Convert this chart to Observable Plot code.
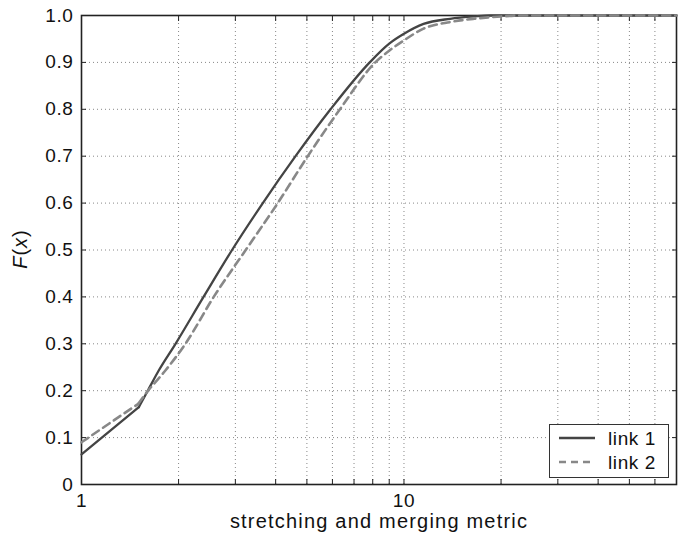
<!DOCTYPE html>
<html>
<head>
<meta charset="utf-8">
<script src="https://cdn.jsdelivr.net/npm/d3@7"></script>
<script src="https://cdn.jsdelivr.net/npm/@observablehq/plot@0.6"></script>
<style>
  html, body { margin: 0; padding: 0; background: #fff; }
  #wrap { position: relative; width: 687px; height: 545px; font-family: "Liberation Sans", Arial, sans-serif; }
  #legend { position: absolute; left: 549px; top: 424px; width: 118px; height: 52px; border: 1px solid #333; background: #fff; }
  #legend svg { display: block; }
</style>
</head>
<body>
<div id="wrap"></div>
<script>
// link 1 (solid): straight lower segment, then smooth rise
const link1X = [1, 1.506, 1.605, 1.736, 1.957, 2.39, 2.93, 3.65, 4.61, 5.92, 7.83, 9, 10, 11.5, 13.9, 16.5, 18.5, 70];
const link1Y = [0.064, 0.165, 0.2, 0.243, 0.3, 0.4, 0.5, 0.6, 0.7, 0.8, 0.9, 0.94, 0.961, 0.982, 0.993, 0.998, 1.0, 1.0];
// link 2 (dashed)
const link2X = [1, 1.5, 1.6, 1.82, 2.1, 2.57, 3.23, 4.06, 5.03, 6.33, 8.15, 9, 10, 11.5, 13.9, 16.5, 20, 23, 70];
const link2Y = [0.09, 0.172, 0.198, 0.243, 0.3, 0.4, 0.5, 0.6, 0.7, 0.8, 0.9, 0.925, 0.947, 0.972, 0.986, 0.993, 0.998, 1.0, 1.0];

const seriesNames = ["link 1", "link 2"];
const xTickLabels = [1, 10, 70];
const xMinorTicks = [1, 2, 3, 4, 5, 6, 7, 8, 9, 10, 20, 30, 40, 50, 60, 70];
const xGrid = [2, 3, 4, 5, 6, 7, 8, 9, 10, 20, 30, 40, 50, 60];
const yTicks = [0, 0.1, 0.2, 0.3, 0.4, 0.5, 0.6, 0.7, 0.8, 0.9, 1.0];
const yGrid = [0.1, 0.2, 0.3, 0.4, 0.5, 0.6, 0.7, 0.8, 0.9];
const xLabel = "stretching and merging metric";

const toRows = (xs, ys) => xs.map((x, i) => ({x, y: ys[i]}));
const d1 = toRows(link1X, link1Y);
const d2 = toRows(link2X, link2Y);
// first segment drawn straight, the rest smooth
const d1a = d1.slice(0, 2), d1b = d1.slice(1);
const d2a = d2.slice(0, 2), d2b = d2.slice(1);
const yFmt = d => d === 0 ? "0" : d.toFixed(1);

const s1 = {stroke: "#444", strokeWidth: 2.3};
const s2 = {stroke: "#888", strokeWidth: 2.6, strokeDasharray: "8,5"};

const chart = Plot.plot({
  width: 687,
  height: 545,
  marginLeft: 81,
  marginRight: 11,
  marginTop: 15,
  marginBottom: 61,
  style: {fontFamily: '"Liberation Sans", Arial, sans-serif', fontSize: "19px", letterSpacing: "0.6px", color: "#111", background: "#fff"},
  x: {type: "log", domain: [1, 70]},
  y: {domain: [0, 1]},
  marks: [
    Plot.gridX(xGrid, {stroke: "#888", strokeOpacity: 1, strokeDasharray: "1,3", strokeWidth: 1}),
    Plot.gridY(yGrid, {stroke: "#888", strokeOpacity: 1, strokeDasharray: "1,3", strokeWidth: 1}),
    Plot.axisX(xMinorTicks, {anchor: "bottom", tickSize: -5, tickFormat: () => "", label: null, stroke: "#222"}),
    Plot.axisX(xMinorTicks, {anchor: "top", tickSize: -5, tickFormat: () => "", label: null, stroke: "#222"}),
    Plot.axisY(yTicks, {anchor: "left", tickSize: -5, tickFormat: () => "", label: null, stroke: "#222"}),
    Plot.axisY(yTicks, {anchor: "right", tickSize: -5, tickFormat: () => "", label: null, stroke: "#222"}),
    Plot.axisX(xTickLabels, {anchor: "bottom", tickSize: 0, tickPadding: 9, tickFormat: d => String(d), label: null, fill: "#111", fontSize: 19}),
    Plot.axisY(yTicks, {anchor: "left", tickSize: 0, tickPadding: 8, tickFormat: yFmt, label: null, fill: "#111", fontSize: 19}),
    Plot.frame({stroke: "#222", strokeWidth: 1.6}),
    Plot.line(d1a, {x: "x", y: "y", ...s1}),
    Plot.line(d1b, {x: "x", y: "y", ...s1, curve: "monotone-x"}),
    Plot.line(d2a, {x: "x", y: "y", ...s2}),
    Plot.line(d2b, {x: "x", y: "y", ...s2, curve: "monotone-x"}),
    Plot.text([xLabel], {frameAnchor: "bottom", dy: 43, text: d => d, fill: "#111", fontSize: 20})
  ]
});

const wrap = document.getElementById("wrap");
wrap.appendChild(chart);
d3.select(chart).selectAll("text").filter(function() { return this.textContent === xLabel; }).style("letter-spacing", "1.2px");

// y axis label F(x) with italic letters
const svg = d3.select(chart);
const yl = svg.append("text")
  .attr("transform", "translate(27,249) rotate(-90)")
  .attr("text-anchor", "middle")
  .attr("font-size", 20)
  .style("letter-spacing", "1px")
  .attr("fill", "#111");
yl.append("tspan").attr("font-style", "italic").text("F");
yl.append("tspan").text("(");
yl.append("tspan").attr("font-style", "italic").text("x");
yl.append("tspan").text(")");

// legend
const legend = document.createElement("div");
legend.id = "legend";
const ls = d3.create("svg").attr("width", 118).attr("height", 52);
const styles = [
  {stroke: "#444", width: 2.3, dash: null},
  {stroke: "#888", width: 2.6, dash: "7,5"}
];
seriesNames.forEach((name, i) => {
  const cy = 13 + i * 24;
  ls.append("line").attr("x1", 9).attr("x2", 45).attr("y1", cy).attr("y2", cy)
    .attr("stroke", styles[i].stroke).attr("stroke-width", styles[i].width)
    .attr("stroke-dasharray", styles[i].dash);
  ls.append("text").attr("x", 58).attr("y", cy).attr("dy", "0.35em")
    .attr("font-family", '"Liberation Sans", Arial, sans-serif')
    .attr("font-size", 19).style("letter-spacing", "0.6px").attr("fill", "#111").text(name);
});
legend.appendChild(ls.node());
wrap.appendChild(legend);
</script>
</body>
</html>
